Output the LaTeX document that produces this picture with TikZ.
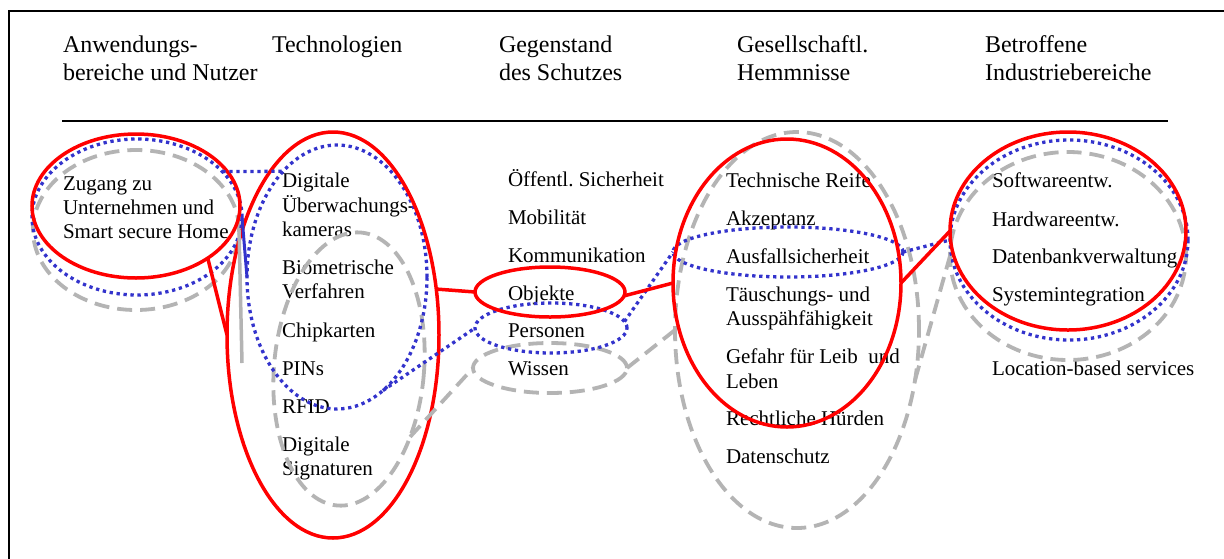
\documentclass[tikz,border=0pt]{standalone}
\usepackage{fontspec}
\setmainfont{Liberation Serif}
\frenchspacing
\usetikzlibrary{shapes.geometric}
\definecolor{myred}{RGB}{255,0,0}
\definecolor{myblue}{RGB}{51,51,204}
\definecolor{mygray}{RGB}{180,180,180}
\begin{document}
\begin{tikzpicture}[x=1pt,y=-1pt,
  txt/.style={anchor=base west,inner sep=0pt,outer sep=0pt,font=\fontsize{21}{24}\selectfont},
  head/.style={anchor=base west,inner sep=0pt,outer sep=0pt,font=\fontsize{24}{28}\selectfont},
  redline/.style={draw=myred,line width=3.5pt},
  blueline/.style={draw=myblue,line width=3.3pt,dash pattern=on 3.3pt off 3.7pt},
  bluesolid/.style={draw=myblue,line width=3pt},
  grayline/.style={draw=mygray,line width=3.8pt,dash pattern=on 15pt off 8pt},
  graysolid/.style={draw=mygray,line width=3.5pt},
  redov/.style={redline,ellipse,inner sep=0pt,outer sep=0pt},
  blueov/.style={blueline,ellipse,inner sep=0pt,outer sep=0pt},
  grayov/.style={grayline,ellipse,inner sep=0pt,outer sep=0pt},
  sz/.style 2 args={minimum width=#1pt,minimum height=#2pt}
]
\useasboundingbox (0,0) rectangle (1224,558);
\fill[white] (0,0) rectangle (1224,558);
% frame
\draw[line width=2pt] (9,570) -- (9,10.5) -- (1235,10.5);
\draw[line width=1.3pt] (62,121) -- (1168,121);

% headers
\node[head] (h1a) at (63,52) {Anwendungs-};
\node[head] (h1b) at (63,80) {bereiche und Nutzer};
\node[head] (h2a) at (272,52) {Technologien};
\node[head] (h3a) at (499,52) {Gegenstand};
\node[head] (h3b) at (499,80) {des Schutzes};
\node[head] (h4a) at (737,52) {Gesellschaftl.};
\node[head] (h4b) at (737,80) {Hemmnisse};
\node[head] (h5a) at (985,52) {Betroffene};
\node[head] (h5b) at (985,80) {Industriebereiche};

% column 1
\node[txt] (a1) at (63,190) {Zugang zu};
\node[txt] (a2) at (63,214) {Unternehmen und};
\node[txt] (a3) at (63,238) {Smart secure Home};

% column 2
\node[txt] (b1) at (282,187) {Digitale};
\node[txt] (b2) at (282,212) {Überwachungs-};
\node[txt] (b3) at (282,236) {kameras};
\node[txt] (b4) at (282,274) {Biometrische};
\node[txt] (b5) at (282,298) {Verfahren};
\node[txt] (b6) at (282,337) {Chipkarten};
\node[txt] (b7) at (282,375) {PINs};
\node[txt] (b8) at (282,413) {RFID};
\node[txt] (b9) at (282,451) {Digitale};
\node[txt] (b10) at (282,475) {Signaturen};

% column 3
\node[txt] (c1) at (508,186) {Öffentl. Sicherheit};
\node[txt] (c2) at (508,224) {Mobilität};
\node[txt] (c3) at (508,262) {Kommunikation};
\node[txt] (c4) at (508,300) {Objekte};
\node[txt] (c5) at (508,337) {Personen};
\node[txt] (c6) at (508,375) {Wissen};

% column 4
\node[txt] (d1) at (726,187) {Technische Reife};
\node[txt] (d2) at (726,225) {Akzeptanz};
\node[txt] (d3) at (726,263) {Ausfallsicherheit};
\node[txt] (d4) at (726,301) {Täuschungs- und};
\node[txt] (d5) at (726,325) {Ausspähfähigkeit};
\node[txt] (d6) at (726,363) {Gefahr für Leib\ \ und};
\node[txt] (d7) at (726,388) {Leben};
\node[txt] (d8) at (726,425) {Rechtliche Hürden};
\node[txt] (d9) at (726,463) {Datenschutz};

% column 5
\node[txt] (e1) at (992,187) {Softwareentw.};
\node[txt] (e2) at (992,226) {Hardwareentw.};
\node[txt] (e3) at (992,263) {Datenbankverwaltung};
\node[txt] (e4) at (992,301) {Systemintegration};
\node[txt] (e5) at (992,375) {Location-based services};

% gray ellipses
\node[grayov,sz={206}{160}] (G1) at (136,230) {};
\node[grayov,sz={150}{274},rotate=-5] (G2) at (349,369) {};
\node[grayov,sz={154}{50}] (G3) at (550,368) {};
\node[grayov,sz={244}{396}] (G4) at (797,330) {};
\node[grayov,sz={236}{208}] (G5) at (1068,256) {};
\coordinate (gEnd) at (242,363);

% blue ellipses
\node[blueov,sz={210}{156}] (B1) at (137,217) {};
\node[blueov,sz={180}{264}] (B2) at (337,277) {};
\node[blueov,sz={152}{50}] (B3) at (551,328) {};
\node[blueov,sz={230}{50}] (B4) at (788,252) {};
\node[blueov,sz={238}{200}] (B5) at (1069,240) {};

% red ellipses
\node[redov,sz={208}{144}] (R1) at (136,206) {};
\node[redov,sz={212}{406}] (R2) at (333,335) {};
\node[redov,sz={150}{50}] (R3) at (550,292) {};
\node[redov,sz={228}{288}] (R4) at (787,283) {};
\node[redov,sz={236}{198}] (R5) at (1068,231) {};

% gray connectors
\draw[graysolid] (G1.east) -- (gEnd);
\draw[grayline] (G2.-43) -- (G3.west);
\draw[grayline] (G3.east) -- (G4.west);
\draw[grayline] (G4.-23) -- (G5.west);

% blue connectors
\draw[blueline] (B1.28) -- (B2.117);
\draw[bluesolid] (B1.east) -- (B2.west);
\draw[blueline] (B2.-68) -- (B3.west);
\draw[blueline] (B3.5) -- (B4.west);
\draw[blueline] (B4.east) -- (B5.west);

% red connectors
\draw[redline] (R1.-36) -- (R2.180);
\draw[redline] (R2.24) -- (R3.west);
\draw[redline] (R3.-3) -- (R4.west);
\draw[redline] (R4.east) -- (R5.west);
\end{tikzpicture}
\end{document}
